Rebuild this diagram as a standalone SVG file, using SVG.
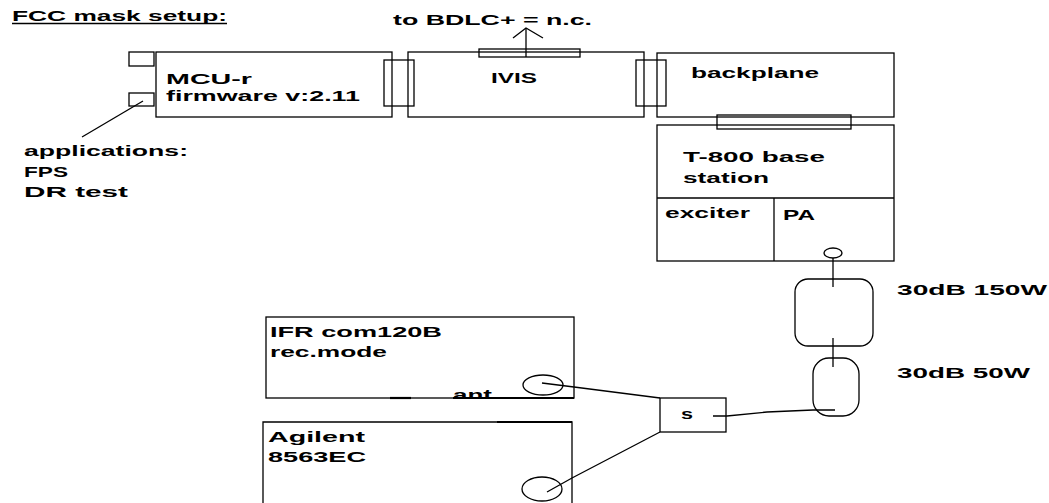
<svg xmlns="http://www.w3.org/2000/svg" width="1049" height="503" viewBox="0 0 1049 503">
<style>
.b{fill:none;stroke:#000;stroke-width:1.3}
.t{font-family:"Liberation Sans",Arial,sans-serif;font-weight:bold;font-size:15px;fill:#000}
</style>
<defs>
<clipPath id="antclip"><rect x="440" y="370" width="70" height="28"/></clipPath>
</defs>
<rect width="1049" height="503" fill="#fff"/>
<g id="title">
<text class="t" x="12" y="21" textLength="215" lengthAdjust="spacingAndGlyphs">FCC mask setup:</text>
<line x1="12" y1="23.5" x2="227" y2="23.5" stroke="#000" stroke-width="1.3"/>
</g>
<g id="mcu">
<rect class="b" x="129" y="52" width="25" height="14"/>
<rect class="b" x="129" y="93" width="25" height="13"/>
<rect class="b" x="156" y="52" width="236" height="65"/>
<text class="t" x="166" y="84" textLength="86" lengthAdjust="spacingAndGlyphs">MCU-r</text>
<text class="t" x="166" y="101" textLength="194" lengthAdjust="spacingAndGlyphs">firmware v:2.11</text>
</g>
<g id="applications">
<text class="t" x="24" y="156" textLength="164" lengthAdjust="spacingAndGlyphs">applications:</text>
<text class="t" x="24" y="177" textLength="44" lengthAdjust="spacingAndGlyphs">FPS</text>
<text class="t" x="24" y="197" textLength="104" lengthAdjust="spacingAndGlyphs">DR test</text>
</g>
<g id="ivis">
<rect class="b" x="408" y="52" width="236" height="65"/>
<text class="t" x="491" y="83" textLength="46" lengthAdjust="spacingAndGlyphs">IVIS</text>
<rect class="b" x="479" y="49" width="101" height="8"/>
<text class="t" x="393" y="25" textLength="199" lengthAdjust="spacingAndGlyphs">to BDLC+ = n.c.</text>
</g>
<g id="conn-mcu-ivis">
<rect class="b" x="384" y="60" width="30" height="46"/>
</g>
<g id="conn-ivis-backplane">
<rect class="b" x="636" y="60" width="30" height="46"/>
</g>
<g id="backplane">
<rect class="b" x="657" y="53" width="237" height="64"/>
<text class="t" x="691" y="78" textLength="128" lengthAdjust="spacingAndGlyphs">backplane</text>
</g>
<g id="t800">
<rect class="b" x="657" y="125" width="237" height="136"/>
<line class="b" x1="657" y1="198" x2="894" y2="198"/>
<line class="b" x1="774" y1="198" x2="774" y2="261"/>
<text class="t" x="683" y="162" textLength="142" lengthAdjust="spacingAndGlyphs">T-800 base</text>
<text class="t" x="683" y="183" textLength="86" lengthAdjust="spacingAndGlyphs">station</text>
<text class="t" x="665" y="218" textLength="85" lengthAdjust="spacingAndGlyphs">exciter</text>
<text class="t" x="783" y="220" textLength="32" lengthAdjust="spacingAndGlyphs">PA</text>
<ellipse class="b" cx="833" cy="253" rx="9" ry="5"/>
</g>
<g id="conn-backplane-t800">
<rect class="b" x="717" y="115" width="134" height="14"/>
</g>
<g id="att150">
<rect class="b" x="795" y="279" width="78" height="67" rx="13" ry="13"/>
<text class="t" x="897" y="295" textLength="150" lengthAdjust="spacingAndGlyphs">30dB 150W</text>
</g>
<g id="att50">
<rect class="b" x="813" y="358" width="46" height="58" rx="16" ry="16"/>
<text class="t" x="897" y="378" textLength="133" lengthAdjust="spacingAndGlyphs">30dB 50W</text>
</g>
<g id="ifr">
<rect class="b" x="266" y="317" width="308" height="81"/>
<line x1="390" y1="398" x2="411" y2="398" stroke="#000" stroke-width="2.2"/>
<line x1="453" y1="398" x2="574" y2="398" stroke="#000" stroke-width="1.8"/>
<text class="t" x="270" y="337" textLength="172" lengthAdjust="spacingAndGlyphs">IFR com120B</text>
<text class="t" x="270" y="357" textLength="117" lengthAdjust="spacingAndGlyphs">rec.mode</text>
<text class="t" x="453" y="399.5" textLength="39" lengthAdjust="spacingAndGlyphs" clip-path="url(#antclip)">ant</text>
<ellipse class="b" cx="543" cy="385" rx="20" ry="10"/>
</g>
<g id="agilent">
<path class="b" d="M263,510 V422 H572 V510"/>
<line x1="497" y1="422" x2="572" y2="422" stroke="#000" stroke-width="2.2"/>
<text class="t" x="268" y="442" textLength="97" lengthAdjust="spacingAndGlyphs">Agilent</text>
<text class="t" x="268" y="462" textLength="98" lengthAdjust="spacingAndGlyphs">8563EC</text>
<ellipse class="b" cx="542" cy="489" rx="20" ry="12"/>
</g>
<g id="splitter">
<rect class="b" x="660" y="398" width="66" height="34"/>
<text class="t" x="681" y="419" textLength="12" lengthAdjust="spacingAndGlyphs">s</text>
</g>
<g id="connectors">
<line class="b" x1="143" y1="101" x2="82" y2="137"/>
<line class="b" x1="526" y1="57" x2="526" y2="28"/>
<polyline class="b" points="513,38 526,28 543,38"/>
<line class="b" x1="833" y1="258" x2="833" y2="287"/>
<line class="b" x1="833" y1="338" x2="833" y2="367"/>
<polyline class="b" points="542,383 574,387 660,398"/>
<polyline class="b" points="547,492 572,478 660,432"/>
<polyline class="b" points="713,416 727,416 767,412 813,410 835,410"/>
</g>
</svg>
